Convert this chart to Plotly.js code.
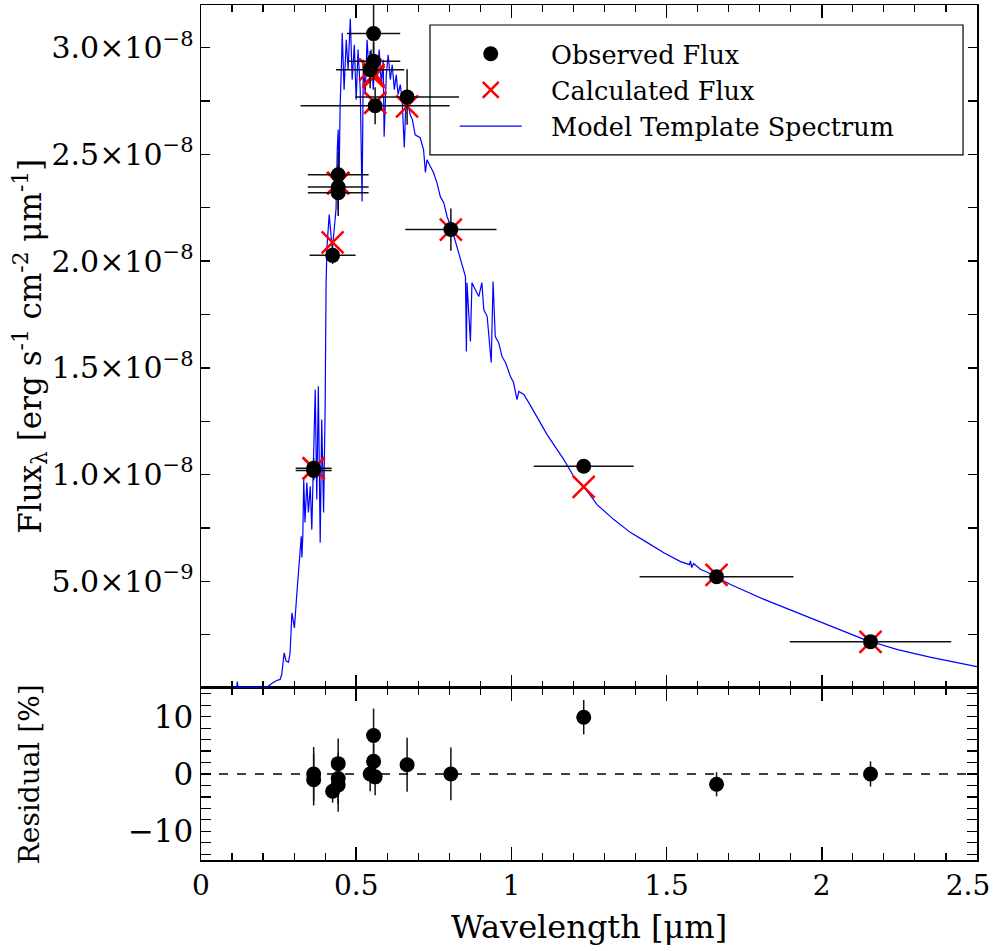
<!DOCTYPE html>
<html><head><meta charset="utf-8">
<script src="https://cdn.plot.ly/plotly-3.0.1.min.js"></script>
<style>html,body{margin:0;padding:0;background:#fff}</style>
</head><body>
<div id="chart" style="width:993px;height:951px"></div>
<script>
// flux values are in units of 1e-8 erg s^-1 cm^-2 um^-1
const FLUX_UNIT = 1e-8;

const specWave = [0.100,0.115,0.117,0.119,0.150,0.190,0.212,0.228,0.244,0.255,0.260,0.268,0.274,0.282,0.287,0.293,0.301,0.309,0.317,0.323,0.325,0.328,0.330,0.331,0.335,0.341,0.346,0.352,0.357,0.362,0.368,0.373,0.378,0.384,0.389,0.395,0.400,0.403,0.406,0.413,0.423,0.429,0.435,0.439,0.442,0.445,0.448,0.453,0.455,0.461,0.468,0.474,0.481,0.487,0.494,0.500,0.506,0.513,0.519,0.523,0.529,0.535,0.542,0.548,0.555,0.561,0.568,0.574,0.581,0.587,0.590,0.597,0.603,0.610,0.616,0.623,0.629,0.635,0.642,0.648,0.655,0.661,0.668,0.674,0.681,0.690,0.706,0.717,0.723,0.728,0.739,0.749,0.760,0.771,0.782,0.793,0.809,0.825,0.841,0.852,0.855,0.857,0.868,0.873,0.884,0.895,0.905,0.911,0.922,0.935,0.941,0.948,0.959,0.970,0.981,0.997,1.007,1.018,1.024,1.040,1.056,1.083,1.115,1.169,1.201,1.233,1.276,1.330,1.384,1.438,1.491,1.545,1.574,1.577,1.581,1.587,1.597,1.610,1.626,1.664,1.706,1.814,1.922,2.029,2.136,2.158,2.244,2.352,2.500];
const specFlux = [0.000,0.000,0.030,0.002,0.003,0.004,0.003,0.021,0.035,0.040,0.063,0.165,0.126,0.121,0.165,0.352,0.282,0.446,0.602,0.711,0.611,0.711,0.892,0.977,0.775,0.963,0.822,0.945,0.742,1.009,1.398,0.883,1.414,0.681,1.258,0.822,1.320,1.899,2.069,2.218,2.054,2.148,2.241,2.522,2.616,2.382,2.710,2.944,3.070,2.803,3.037,2.897,3.136,2.850,3.014,2.756,2.991,2.803,2.279,2.944,2.780,3.037,2.873,2.991,2.803,2.967,2.850,2.991,2.827,2.944,2.583,2.873,2.967,2.850,2.920,2.803,2.873,2.780,2.827,2.756,2.532,2.780,2.733,2.686,2.663,2.592,2.578,2.522,2.415,2.475,2.443,2.415,2.368,2.302,2.274,2.208,2.147,2.068,1.993,1.927,1.576,1.899,1.623,1.899,1.866,1.834,1.899,1.773,1.740,1.525,1.904,1.646,1.618,1.552,1.525,1.459,1.431,1.351,1.389,1.375,1.337,1.267,1.187,1.070,0.991,0.944,0.859,0.789,0.728,0.681,0.634,0.592,0.578,0.595,0.564,0.583,0.569,0.555,0.546,0.518,0.485,0.415,0.353,0.288,0.228,0.218,0.180,0.143,0.100];

const obsWave    = [0.363,0.363,0.424,0.442,0.442,0.442,0.545,0.556,0.556,0.561,0.664,0.805,1.233,1.661,2.157];
const obsWaveErr = [0.058,0.058,0.074,0.098,0.098,0.098,0.110,0.086,0.086,0.240,0.167,0.147,0.161,0.248,0.260];
const obsFlux    = [1.030,1.019,2.027,2.405,2.347,2.320,2.897,3.066,2.936,2.728,2.769,2.148,1.039,0.521,0.2164];
const obsFluxErr = [0.048,0.046,0.040,0.106,0.105,0.109,0.087,0.144,0.088,0.087,0.130,0.099,0.031,0.011,0.0048];
const calcFlux   = [1.029,1.029,2.088,2.365,2.365,2.365,2.897,2.862,2.873,2.742,2.725,2.148,0.942,0.530,0.2164];
const residual   = [0.0,-1.0,-3.0,1.8,-0.8,-1.9,0.0,6.7,2.2,-0.5,1.6,0.0,9.9,-1.8,0.0];
const residualErr= [4.7,4.5,2.0,4.4,4.5,4.7,3.0,4.7,3.0,3.2,4.7,4.6,3.0,2.1,2.2];

const xTickVals = [0,0.5,1,1.5,2,2.5];
const xTickText = ['0','0.5','1','1.5','2','2.5\u00a0\u00a0'];
const fluxTickVals = [0.5,1.0,1.5,2.0,2.5,3.0];
const fluxTickText = ['5.0×10<sup>−9</sup>','1.0×10<sup>−8</sup>','1.5×10<sup>−8</sup>','2.0×10<sup>−8</sup>','2.5×10<sup>−8</sup>','3.0×10<sup>−8</sup>'];
const resTickVals = [-10,0,10];
const resTickText = ['−10','0','10'];

const toFlux = a => a.map(v => v * FLUX_UNIT);

const FONT = 'DejaVu Serif';
const split = 0.2012;
const PAD = '\u00a0\u00a0\u00a0';

const traces = [
  {
    x: specWave, y: toFlux(specFlux), xaxis: 'x2', yaxis: 'y2',
    type: 'scatter', mode: 'lines', name: PAD + 'Model Template Spectrum',
    line: {color: '#0000ff', width: 1.2}, legendrank: 3
  },
  {
    x: obsWave, y: toFlux(calcFlux), xaxis: 'x2', yaxis: 'y2',
    type: 'scatter', mode: 'markers', name: PAD + 'Calculated Flux',
    marker: {symbol: 'x-thin', size: 22, color: 'red', line: {color: 'red', width: 2.5}},
    legendrank: 2
  },
  {
    x: obsWave, y: toFlux(obsFlux), xaxis: 'x2', yaxis: 'y2',
    type: 'scatter', mode: 'markers', name: PAD + 'Observed Flux',
    marker: {symbol: 'circle', size: 15, color: 'black'},
    error_x: {type: 'data', array: obsWaveErr, color: '#111', thickness: 1.5, width: 0},
    error_y: {type: 'data', array: toFlux(obsFluxErr), color: '#111', thickness: 1.5, width: 0},
    legendrank: 1
  },
  {
    x: obsWave, y: residual, xaxis: 'x', yaxis: 'y',
    type: 'scatter', mode: 'markers', showlegend: false,
    marker: {symbol: 'circle', size: 15, color: 'black'},
    error_y: {type: 'data', array: residualErr, color: '#111', thickness: 1.5, width: 0}
  }
];

const axCommon = {
  showline: true, linecolor: 'black', linewidth: 1.5, mirror: 'allticks',
  ticks: 'inside', tickcolor: 'black', tickwidth: 1.5,
  showgrid: false, zeroline: false,
  tickfont: {family: FONT, size: 28, color: 'black'}
};
const yTickFont = {family: FONT, size: 31, color: 'black'};

const layout = {
  width: 993, height: 951,
  margin: {l: 201, r: 16, t: 5, b: 91},
  paper_bgcolor: 'white', plot_bgcolor: 'white',
  font: {family: FONT, color: 'black'},
  showlegend: true,
  legend: {
    x: 0.327, y: 0.970, xanchor: 'left', yanchor: 'top',
    bgcolor: 'rgba(0,0,0,0)', borderwidth: 0,
    font: {family: FONT, size: 25.5, color: 'black'},
    itemwidth: 62, traceorder: 'normal'
  },
  xaxis: Object.assign({}, axCommon, {
    domain: [0, 1], anchor: 'y', range: [0, 2.5001],
    tickmode: 'array', tickvals: xTickVals, ticktext: xTickText, ticklen: 13,
    ticklabeloverflow: 'allow',
    minor: {tickmode: 'linear', tick0: 0, dtick: 0.1, ticks: 'inside', ticklen: 7, tickcolor: 'black', tickwidth: 1.2},
    title: {text: 'Wavelength [μm]', font: {family: FONT, size: 32, color: 'black'}, standoff: 14}
  }),
  xaxis2: Object.assign({}, axCommon, {
    domain: [0, 1], anchor: 'y2', range: [0, 2.5001], matches: 'x',
    tickmode: 'array', tickvals: xTickVals, ticktext: xTickText, showticklabels: false, ticklen: 13,
    minor: {tickmode: 'linear', tick0: 0, dtick: 0.1, ticks: 'inside', ticklen: 7, tickcolor: 'black', tickwidth: 1.2}
  }),
  yaxis: Object.assign({}, axCommon, {
    domain: [0, split], anchor: 'x', range: [-15, 15],
    tickmode: 'array', tickvals: resTickVals, ticktext: resTickText, ticklen: 10,
    tickfont: yTickFont,
    minor: {tickmode: 'linear', tick0: 0, dtick: 2, ticks: 'inside', ticklen: 10, tickcolor: 'black', tickwidth: 1.2}
  }),
  yaxis2: Object.assign({}, axCommon, {
    domain: [split, 1], anchor: 'x2', range: [0, 3.2e-8],
    tickmode: 'array', tickvals: toFlux(fluxTickVals), ticktext: fluxTickText, ticklen: 9,
    tickfont: {family: FONT, size: 30, color: 'black'},
    minor: {tickmode: 'linear', tick0: 0, dtick: 0.25e-8, ticks: 'inside', ticklen: 9, tickcolor: 'black', tickwidth: 1.2}
  }),
  shapes: [
    {type: 'line', xref: 'x', yref: 'y', x0: 0, x1: 2.5, y0: 0, y1: 0,
     line: {color: 'black', width: 1.5, dash: 'dash'}},
    {type: 'rect', xref: 'paper', yref: 'paper', x0: 0.2951, x1: 0.982, y0: 0.8246, y1: 0.9766,
     line: {color: 'black', width: 1.2}, fillcolor: 'rgba(0,0,0,0)', layer: 'above'}
  ],
  annotations: [
    {xref: 'paper', yref: 'paper', x: -0.220, y: (split + 1) / 2, xanchor: 'center', yanchor: 'middle',
     textangle: -90, showarrow: false,
     text: 'Flux<sub>λ</sub> [erg s<sup>-1</sup> cm<sup>-2</sup> μm<sup>-1</sup>]',
     font: {family: FONT, size: 31, color: 'black'}},
    {xref: 'paper', yref: 'paper', x: -0.220, y: split / 2, xanchor: 'center', yanchor: 'middle',
     textangle: -90, showarrow: false, text: 'Residual [%]',
     font: {family: FONT, size: 28, color: 'black'}}
  ]
};

Plotly.newPlot('chart', traces, layout, {displayModeBar: false, staticPlot: true});
</script>
</body></html>
